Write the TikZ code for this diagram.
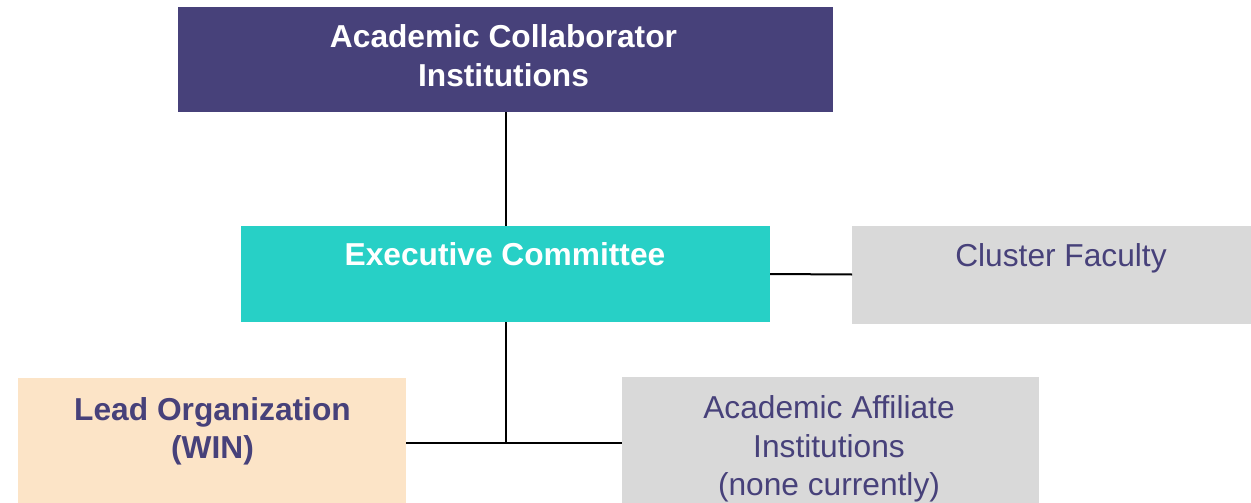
\documentclass[tikz,border=0pt]{standalone}
\usepackage{fontspec}
\setmainfont{Liberation Sans}
\definecolor{navy}{RGB}{71,65,122}
\definecolor{teal2}{RGB}{39,208,198}
\definecolor{lgray}{RGB}{217,217,217}
\definecolor{peach}{RGB}{252,228,199}
\begin{document}
\begin{tikzpicture}[x=1pt,y=-1pt,
  box/.style={draw=none,rectangle,inner sep=0pt,outer sep=0pt},
  lbl/.style={anchor=base,inner sep=0pt,font=\fontsize{31.7}{39}\selectfont},
  bold/.style={font=\fontsize{31.7}{39}\selectfont\bfseries},
  conn/.style={draw=black,line width=2pt}]
\useasboundingbox (0,0) rectangle (1251,503);
% boxes
\node[box,fill=navy,minimum width=655pt,minimum height=105pt] (acad) at (505.5,59.5) {};
\node[box,fill=teal2,minimum width=529pt,minimum height=96pt] (exec) at (505.5,274) {};
\node[box,fill=lgray,minimum width=399pt,minimum height=98pt] (clus) at (1051.5,274.5) {};
\node[box,fill=peach,minimum width=388pt,minimum height=125pt] (lead) at (212,440.5) {};
\node[box,fill=lgray,minimum width=417pt,minimum height=126pt] (aff) at (830.5,440) {};
% texts
\node[lbl,bold,text=white] (t1a) at (503.5,48) {Academic Collaborator};
\node[lbl,bold,text=white] (t1b) at (503.5,87) {Institutions};
\node[lbl,bold,text=white] (t2) at (505,265) {Executive Committee};
\node[lbl,text=navy] (t3) at (1061,266) {Cluster Faculty};
\node[lbl,bold,text=navy] (t4a) at (212.5,420) {Lead Organization};
\node[lbl,bold,text=navy] (t4b) at (212.5,458) {(WIN)};
\node[lbl,text=navy] (t5a) at (829,418) {Academic Affiliate};
\node[lbl,text=navy] (t5b) at (829,457) {Institutions};
\node[lbl,text=navy] (t5c) at (829,495) {(none currently)};
% connectors
\coordinate (j) at (505.5,443);
\draw[conn] (acad.south) -- (exec.north);
\draw[conn] (exec.east) -- (clus.west);
\draw[conn] (exec.south) -- (j);
\draw[conn] (lead.east |- j) -- (aff.west |- j);
\end{tikzpicture}
\end{document}
